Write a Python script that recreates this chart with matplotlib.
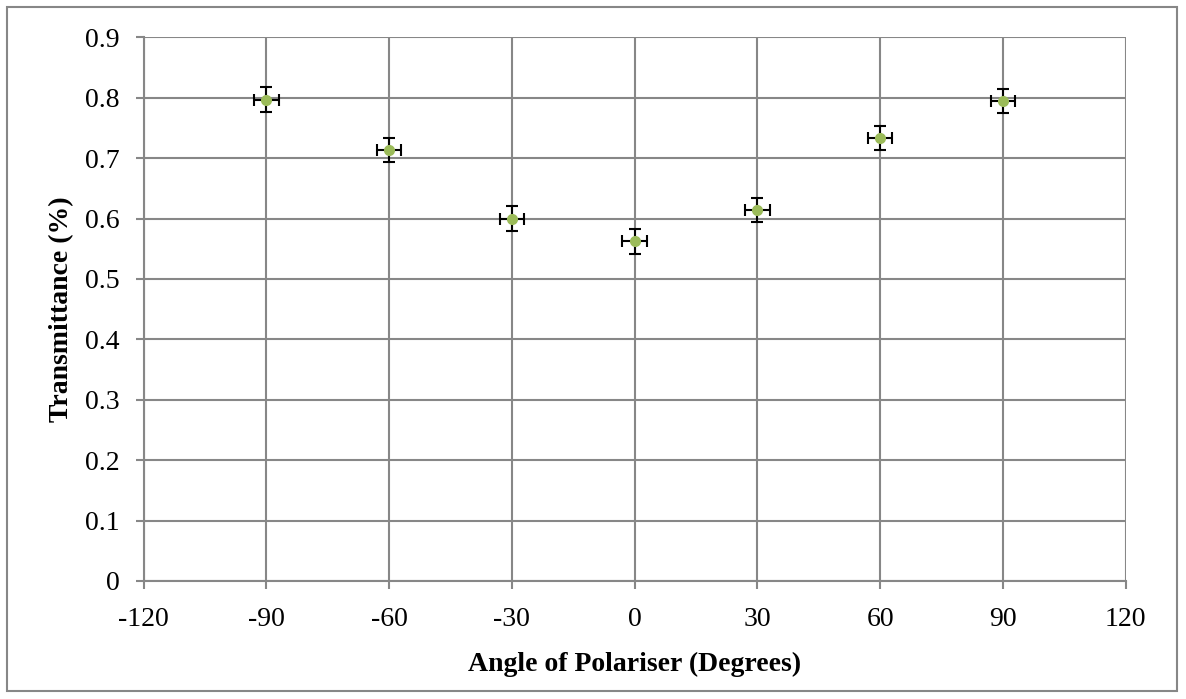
import numpy as np
import matplotlib.pyplot as plt
from matplotlib.patches import Rectangle

# data
angle = [-90, -60, -30, 0, 30, 60, 90]
transmittance = [0.797, 0.714, 0.600, 0.562, 0.614, 0.734, 0.795]
angle_err = [3, 3, 3, 3, 3, 3, 3]
trans_err = [0.02, 0.02, 0.02, 0.02, 0.02, 0.02, 0.02]

x_ticks = [-120, -90, -60, -30, 0, 30, 60, 90, 120]
y_ticks = [0, 0.1, 0.2, 0.3, 0.4, 0.5, 0.6, 0.7, 0.8, 0.9]

plt.rcParams['font.family'] = ['Liberation Serif', 'DejaVu Serif']
grey = '#878787'

fig = plt.figure(figsize=(11.86, 6.99), dpi=100)
ax = fig.add_axes([143.5/1186, 1 - 581/699, (1125.6 - 143.5)/1186, (581 - 37.3)/699])

ax.errorbar(angle, transmittance, xerr=angle_err, yerr=trans_err, fmt='o',
            color='#9BBB59', markersize=7, ecolor='black', elinewidth=1.5,
            capsize=4.3, capthick=1.5, zorder=3)

ax.set_xlim(-120, 120)
ax.set_ylim(0, 0.9)
ax.set_xticks(x_ticks)
ax.set_yticks(y_ticks)
ax.set_xticklabels([str(v) for v in x_ticks])
ax.set_yticklabels(['0'] + ['%.1f' % v for v in y_ticks[1:]])
ax.grid(True, color=grey, linewidth=1.5)
ax.set_axisbelow(True)

for s in ['top', 'right']:
    ax.spines[s].set_visible(False)
for s in ['left', 'bottom']:
    ax.spines[s].set_color(grey)
    ax.spines[s].set_linewidth(1.5)

ax.tick_params(direction='out', length=6, width=1.5, color=grey, labelsize=20)
ax.tick_params(axis='x', pad=13)
ax.tick_params(axis='y', pad=11)
ax.set_xlabel('Angle of Polariser (Degrees)', fontsize=20, fontweight='bold', labelpad=14)
ax.set_ylabel('Transmittance (%)', fontsize=20, fontweight='bold', labelpad=8)

# outer chart border
fig.patches.append(Rectangle((7/1186, 1 - 691/699), 1170/1186, 684/699,
                             transform=fig.transFigure, fill=False,
                             edgecolor=grey, linewidth=1.5))

plt.savefig('out.png', dpi=100)
